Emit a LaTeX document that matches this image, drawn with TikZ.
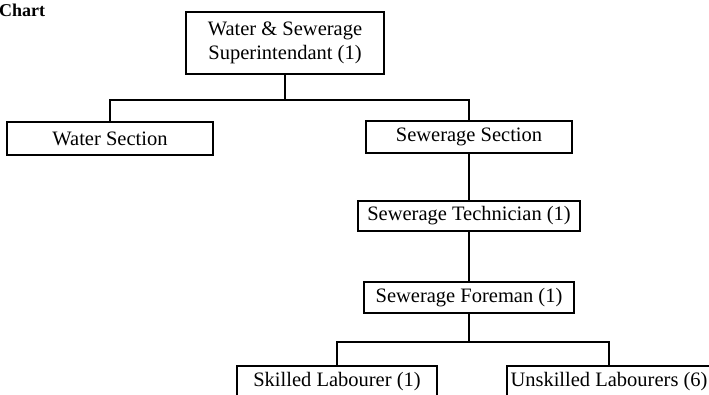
\documentclass[tikz,border=0pt]{standalone}
\usepackage{fontspec}
\setmainfont{Liberation Serif}
\begin{document}
\begin{tikzpicture}[x=1pt,y=1pt]
\tikzset{
  box/.style={draw, line width=1.1pt, inner sep=0pt, align=center,
              font=\fontsize{20.5}{24.5}\selectfont},
  link/.style={line width=1.2pt}
}
\clip (0,0) rectangle (709,-395);

% title fragment
\node[anchor=west, inner sep=0pt, font=\fontsize{18}{20}\selectfont\bfseries] (title) at (-1,-10) {Chart};

% boxes
\node[box, minimum width=198pt, minimum height=62pt] (sup) at (285,-43) {Water \& Sewerage\\Superintendant (1)};
\node[box, minimum width=206pt, minimum height=33pt] (water) at (110,-138.5) {Water Section};
\node[box, minimum width=206pt, minimum height=32pt] (sewsec) at (469,-137) {Sewerage Section};
\node[box, minimum width=222pt, minimum height=30pt] (tech) at (469,-216) {Sewerage Technician (1)};
\node[box, minimum width=210pt, minimum height=31pt] (fore) at (469,-297.5) {Sewerage Foreman (1)};
\node[box, minimum width=200pt, minimum height=32pt] (skill) at (337,-382) {Skilled Labourer (1)};
\node[box, minimum width=204pt, minimum height=32pt] (unskill) at (609,-382) {Unskilled Labourers (6)};

% bus levels
\coordinate (bus1) at (0,-100);
\coordinate (bus2) at (0,-342);

% connectors
\draw[link] (sup.south) -- (sup.south |- bus1);
\draw[link] (water.north) -- (water.north |- bus1) -- (sewsec.north |- bus1) -- (sewsec.north);
\draw[link] (sewsec.south) -- (tech.north);
\draw[link] (tech.south) -- (fore.north);
\draw[link] (fore.south) -- (fore.south |- bus2);
\draw[link] (skill.north) -- (skill.north |- bus2) -- (unskill.north |- bus2) -- (unskill.north);
\end{tikzpicture}
\end{document}
